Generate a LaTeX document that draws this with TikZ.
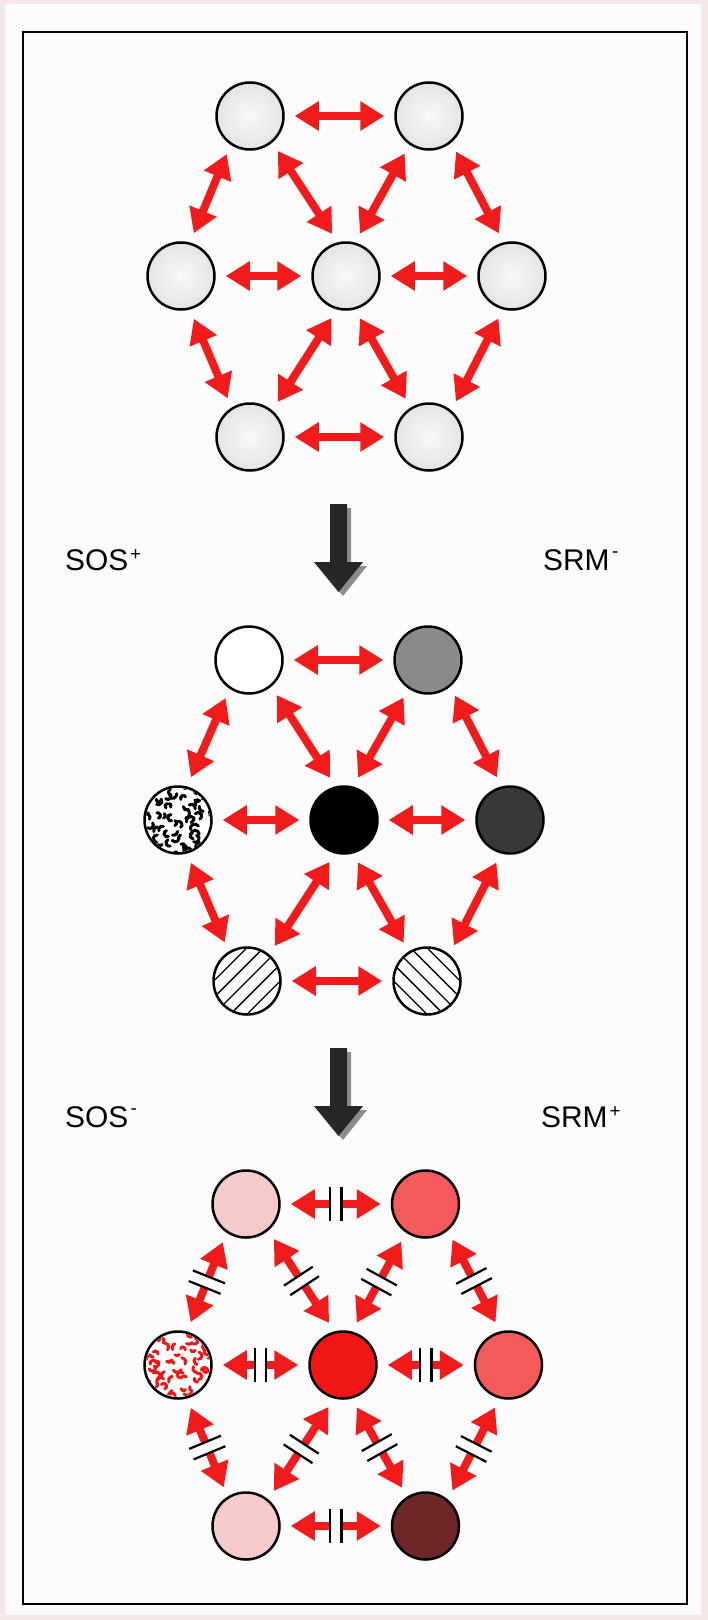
\documentclass[tikz,border=0pt]{standalone}
\usepackage{fontspec}
\setmainfont{Liberation Sans}
\usetikzlibrary{arrows.meta}
\definecolor{bg}{HTML}{FEFBFC}
\definecolor{edgepink}{HTML}{F7E6E8}
\definecolor{arrred}{HTML}{F21B1B}
\definecolor{pinklight}{HTML}{F6CACB}
\definecolor{salmon}{HTML}{F45A5B}
\definecolor{redfull}{HTML}{F21515}
\definecolor{maroon}{HTML}{6E2628}
\definecolor{midgray}{HTML}{8A8A8A}
\definecolor{darkgray}{HTML}{383838}
\pgfdeclareradialshading{ballshade}{\pgfpoint{0bp}{0bp}}{color(0bp)=(white!97!black); color(18bp)=(white!92!black); color(34bp)=(white!86!black); color(50bp)=(white!78!black)}
\tikzset{
  ball/.style={circle, draw=black, line width=2.5bp, minimum size=67bp, inner sep=0pt},
  shaded ball/.style={ball, shading=ballshade},
  arr/.style={draw=arrred, line width=8bp, {Triangle[length=24bp,width=28bp]}-{Triangle[length=24bp,width=28bp]}, shorten <=10bp, shorten >=10bp},
  gapnode/.style={rectangle, inner sep=0pt, minimum width=11bp, minimum height=34bp, fill=bg, draw=none},
  barline/.style={draw=black, line width=2.2bp},
  lbl/.style={inner sep=0pt, anchor=base west, font=\fontsize{30}{36}\selectfont},
  suplbl/.style={inner sep=0pt, anchor=base west, font=\fontsize{19}{22}\selectfont},
  frame/.style={draw=black, line width=2.5bp},
  bigarrow/.style={fill=black!85},
  bigshadow/.style={fill=black!45}
}
\newcommand\gapbars[3]{%
  \path (#1) -- (#2) node[midway, sloped, gapnode] (#3) {};
  \draw[barline] (#3.north west) -- (#3.south west) (#3.north east) -- (#3.south east);
}
\newcommand\blobfill[3]{% node, colour, seed
  \begin{scope}[shift={(#1.center)}]
    \clip (0,0) circle[radius=32bp];
    \pgfmathsetseed{#3}
    \foreach \gx in {-31,-22,...,32}{
      \foreach \gy in {-31,-22,...,32}{
        \pgfmathsetmacro\bx{\gx+3.5*rand}
        \pgfmathsetmacro\by{\gy+3.5*rand}
        \pgfmathsetmacro\ba{360*rnd}
        \pgfmathsetmacro\bd{80+130*rnd}
        \pgfmathsetmacro\br{2.3+2.2*rnd}
        \draw[#2, line width=3bp, line cap=round] (\bx,\by) arc[start angle=\ba, delta angle=\bd, radius=\br bp];
      }
    }
  \end{scope}
}
\newcommand\hatchfill[2]{% node, direction (+1 = /, -1 = \)
  \begin{scope}[shift={(#1.center)}]
    \clip (0,0) circle[radius=32.3bp];
    \foreach \k in {-5,...,5}{
      \draw[line width=1.3bp] ({\k*8.3-40},{#2*(\k*8.3)+40*#2}) -- ({\k*8.3+40},{#2*(\k*8.3)-40*#2});
    }
  \end{scope}
}
\begin{document}
\begin{tikzpicture}[x=1bp,y=-1bp]
\useasboundingbox (0,0) rectangle (708,1620);
\fill[edgepink] (0,0) rectangle (708,1620);
\fill[bg] (5,4) rectangle (701,1615);
\draw[frame] (23,32) rectangle (687,1604);

% ---------- group 1 ----------
\node[shaded ball] (a1) at (250,116) {};
\node[shaded ball] (a2) at (429,116) {};
\node[shaded ball] (a3) at (181,276) {};
\node[shaded ball] (a4) at (346,276) {};
\node[shaded ball] (a5) at (512,276) {};
\node[shaded ball] (a6) at (250,437) {};
\node[shaded ball] (a7) at (429,437) {};
\draw[arr] (a1.east) -- (a2.west);
\draw[arr] (a3.east) -- (a4.west);
\draw[arr] (a4.east) -- (a5.west);
\draw[arr] (a6.east) -- (a7.west);
\draw[arr] (a1.236) -- (a3.75);
\draw[arr] (a1.310) -- (a4.104);
\draw[arr] (a2.236) -- (a4.75);
\draw[arr] (a2.310) -- (a5.104);
\draw[arr] (a3.285) -- (a6.122);
\draw[arr] (a4.255) -- (a6.50);
\draw[arr] (a4.285) -- (a7.122);
\draw[arr] (a5.255) -- (a7.50);

% ---------- arrow 1 and labels ----------
\fill[bigshadow] (334,508) -- (351,508) -- (351,566) -- (367,566) -- (343,596) -- (318,566) -- (334,566) -- cycle;
\fill[bigarrow] (330,504) -- (347,504) -- (347,562) -- (363,562) -- (338.5,592) -- (314,562) -- (330,562) -- cycle;
\node[lbl] (sos1) at (65,570) {SOS};
\node[suplbl] (sos1s) at ([xshift=1.5bp, yshift=10bp]sos1.base east) {+};
\node[lbl] (srm1) at (543,570) {SRM};
\node[suplbl] (srm1s) at ([xshift=2bp, yshift=13bp]srm1.base east) {-};

% ---------- group 2 ----------
\node[ball, fill=white] (b1) at (249,660) {};
\node[ball, fill=midgray] (b2) at (428,660) {};
\node[ball, fill=white] (b3) at (178,820) {};
\node[ball, fill=black] (b4) at (344,820) {};
\node[ball, fill=darkgray] (b5) at (510,820) {};
\node[ball, fill=white] (b6) at (247,981) {};
\node[ball, fill=white] (b7) at (427,981) {};
\blobfill{b3}{black}{11}
\hatchfill{b6}{1}
\hatchfill{b7}{-1}
\draw[arr] (b1.east) -- (b2.west);
\draw[arr] (b3.east) -- (b4.west);
\draw[arr] (b4.east) -- (b5.west);
\draw[arr] (b6.east) -- (b7.west);
\draw[arr] (b1.236) -- (b3.75);
\draw[arr] (b1.310) -- (b4.104);
\draw[arr] (b2.236) -- (b4.75);
\draw[arr] (b2.310) -- (b5.104);
\draw[arr] (b3.285) -- (b6.122);
\draw[arr] (b4.255) -- (b6.50);
\draw[arr] (b4.285) -- (b7.122);
\draw[arr] (b5.255) -- (b7.50);

% ---------- arrow 2 and labels ----------
\fill[bigshadow] (334,1052) -- (351,1052) -- (351,1110) -- (367,1110) -- (343,1140) -- (318,1110) -- (334,1110) -- cycle;
\fill[bigarrow] (330,1048) -- (347,1048) -- (347,1106) -- (363,1106) -- (338.5,1136) -- (314,1106) -- (330,1106) -- cycle;
\node[lbl] (sos2) at (65,1127) {SOS};
\node[suplbl] (sos2s) at ([xshift=2bp, yshift=13bp]sos2.base east) {-};
\node[lbl] (srm2) at (541,1127) {SRM};
\node[suplbl] (srm2s) at ([xshift=1.5bp, yshift=10bp]srm2.base east) {+};

% ---------- group 3 ----------
\node[ball, fill=pinklight] (c1) at (246,1204) {};
\node[ball, fill=salmon] (c2) at (425.5,1204) {};
\node[ball, fill=white] (c3) at (178,1365) {};
\node[ball, fill=redfull] (c4) at (343,1365) {};
\node[ball, fill=salmon] (c5) at (508.5,1365) {};
\node[ball, fill=pinklight] (c6) at (246,1526) {};
\node[ball, fill=maroon] (c7) at (425.5,1526) {};
\blobfill{c3}{redfull}{23}
\draw[arr] (c1.east) -- (c2.west);
\draw[arr] (c3.east) -- (c4.west);
\draw[arr] (c4.east) -- (c5.west);
\draw[arr] (c6.east) -- (c7.west);
\draw[arr] (c1.236) -- (c3.75);
\draw[arr] (c1.310) -- (c4.104);
\draw[arr] (c2.236) -- (c4.75);
\draw[arr] (c2.310) -- (c5.104);
\draw[arr] (c3.285) -- (c6.122);
\draw[arr] (c4.255) -- (c6.50);
\draw[arr] (c4.285) -- (c7.122);
\draw[arr] (c5.255) -- (c7.50);
\gapbars{c1.east}{c2.west}{g1}
\gapbars{c3.east}{c4.west}{g2}
\gapbars{c4.east}{c5.west}{g3}
\gapbars{c6.east}{c7.west}{g4}
\gapbars{c1.236}{c3.75}{g5}
\gapbars{c1.310}{c4.104}{g6}
\gapbars{c2.236}{c4.75}{g7}
\gapbars{c2.310}{c5.104}{g8}
\gapbars{c3.285}{c6.122}{g9}
\gapbars{c4.255}{c6.50}{g10}
\gapbars{c4.285}{c7.122}{g11}
\gapbars{c5.255}{c7.50}{g12}
\end{tikzpicture}
\end{document}
